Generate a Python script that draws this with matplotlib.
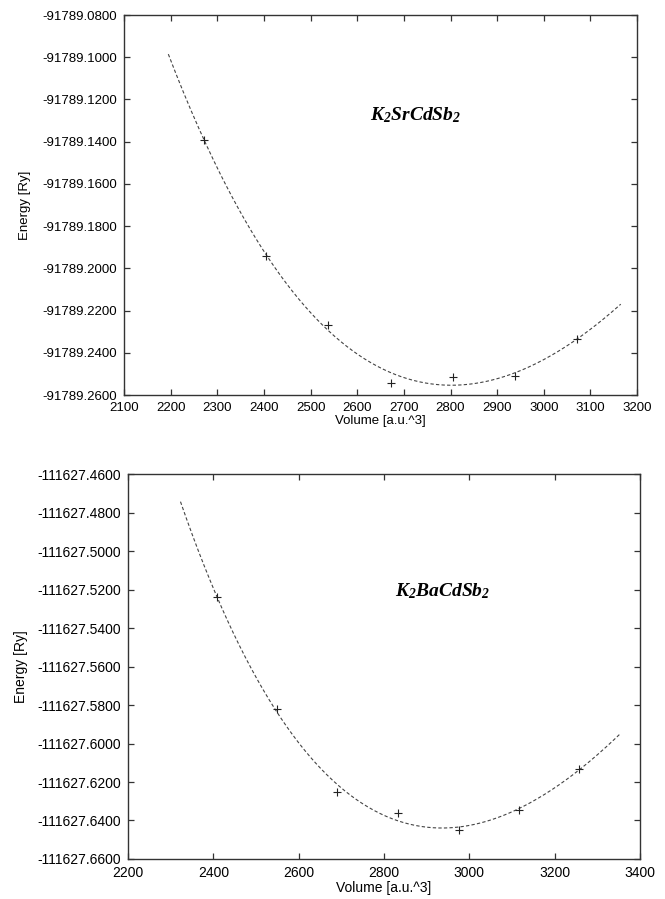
import numpy as np
import matplotlib
matplotlib.use("Agg")
import matplotlib.pyplot as plt
from matplotlib.ticker import FormatStrFormatter, MultipleLocator

plt.rcParams['font.family'] = ['Liberation Sans', 'DejaVu Sans']
plt.rcParams['mathtext.fontset'] = 'custom'
plt.rcParams['mathtext.bf'] = 'Liberation Serif:bold:italic'
plt.rcParams['mathtext.rm'] = 'Liberation Serif:bold:italic'

# K2SrCdSb2 : volume (a.u.^3) vs total energy (Ry)
sr_volume = [2272, 2405, 2538, 2672, 2805, 2938, 3072]
sr_energy = [-91789.1394, -91789.1941, -91789.2268, -91789.2544,
             -91789.2513, -91789.2508, -91789.2333]
sr_fit_range = (2195, 3165)

# K2BaCdSb2
ba_volume = [2408, 2549, 2691, 2833, 2975, 3116, 3258]
ba_energy = [-111627.5237, -111627.5823, -111627.6250, -111627.6361,
             -111627.6449, -111627.6344, -111627.6132]
ba_fit_range = (2323, 3352)


def birch_fit(vol, en, vmin, vmax, n=300):
    # 3rd order Birch-Murnaghan: E is a cubic in V^(-2/3)
    vol = np.asarray(vol, float)
    en = np.asarray(en, float)
    vref = vol.mean()
    e0 = en.mean()
    coef = np.polyfit((vol / vref) ** (-2.0 / 3.0), en - e0, 3)
    vv = np.linspace(vmin, vmax, n)
    return vv, np.polyval(coef, (vv / vref) ** (-2.0 / 3.0)) + e0


def draw(ax, vol, en, frange, xlim, xstep, ylim, label, label_pos, fs, ypad):
    vv, ee = birch_fit(vol, en, *frange)
    ax.plot(vv, ee, color='#444444', lw=0.8, dashes=(3, 2))
    ax.plot(vol, en, '+', color='#222222', ms=6, mew=0.8)
    ax.set_xlim(*xlim)
    ax.set_ylim(*ylim)
    ax.xaxis.set_major_locator(MultipleLocator(xstep))
    ax.yaxis.set_major_locator(MultipleLocator(0.02))
    ax.yaxis.set_major_formatter(FormatStrFormatter('%.4f'))
    ax.tick_params(direction='in', top=True, right=True, length=4.5,
                   width=0.9, labelsize=fs, color='#333333', pad=5)
    for s in ax.spines.values():
        s.set_linewidth(1.0)
        s.set_color('#333333')
    ax.set_xlabel('Volume [a.u.^3]', fontsize=fs, labelpad=1)
    ax.set_ylabel('Energy [Ry]', fontsize=fs, labelpad=ypad)
    ax.text(label_pos[0], label_pos[1], label, fontsize=14,
            ha='center', va='center')


fig = plt.figure(figsize=(6.65, 8.99), dpi=100)
ax1 = fig.add_axes([0.1865, 0.5606, 0.7715, 0.4227])
ax2 = fig.add_axes([0.1925, 0.0445, 0.7699, 0.4282])

draw(ax1, sr_volume, sr_energy, sr_fit_range, (2100, 3200), 100,
     (-91789.26, -91789.08), r'$\mathbf{K_2SrCdSb_2}$', (2726, -91789.1274), 9.5, 8)
draw(ax2, ba_volume, ba_energy, ba_fit_range, (2200, 3400), 200,
     (-111627.66, -111627.46), r'$\mathbf{K_2BaCdSb_2}$', (2938, -111627.5206), 10, 7)

fig.savefig('out.png', dpi=100)
